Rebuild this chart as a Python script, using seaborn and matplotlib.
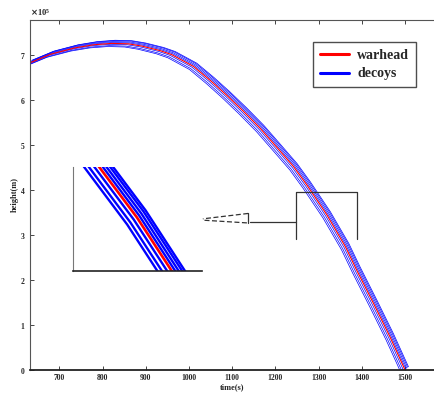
import numpy as np
import pandas as pd
import matplotlib
matplotlib.use("Agg")
import matplotlib.pyplot as plt
import seaborn as sns
from matplotlib.lines import Line2D
from matplotlib.ticker import ScalarFormatter

### ---------------------------------------------------------------- ###
### Data

# warhead trajectory: time (s) and height (x1e5 m)
time_s = [630, 680, 736, 780, 821, 860, 891, 933, 960, 1010, 1050, 1087,
          1125, 1165, 1205, 1242, 1273, 1319, 1362, 1388, 1427, 1465, 1500]
height_e5 = [6.82, 7.02, 7.16, 7.23, 7.26, 7.25, 7.20, 7.10, 7.01, 6.75, 6.43, 6.11,
             5.76, 5.37, 4.93, 4.52, 4.11, 3.45, 2.74, 2.22, 1.48, 0.74, 0.0]

# decoys sit around the warhead: shift in time (s) and in height (x1e5 m)
decoy_dt = [-9, -6, -3, 2, 4, 6, 8]
decoy_dh = [-0.07, -0.05, -0.02, 0.02, 0.04, 0.06, 0.07]

x_ticks = [700, 800, 900, 1000, 1100, 1200, 1300, 1400, 1500]
y_ticks = [0, 1, 2, 3, 4, 5, 6, 7]

# build data frames
warhead = pd.DataFrame({"time": time_s, "height": np.array(height_e5) * 1e5})
rows = []
for k in range(len(decoy_dt)):
    d0 = pd.DataFrame({"time": np.array(time_s) + decoy_dt[k],
                       "height": (np.array(height_e5) + decoy_dh[k]) * 1e5})
    d0["decoy"] = k
    rows.append(d0)
decoys = pd.concat(rows, ignore_index=True)

### ---------------------------------------------------------------- ###
### Plot

sns.set_style("white")
plt.rcParams["font.family"] = ["Liberation Serif", "DejaVu Serif"]
plt.rcParams["font.weight"] = "bold"

fig = plt.figure(figsize=(4.34, 3.96), dpi=100)
ax = fig.add_axes([30/434, 26/396, 404/434, 350/396])

sns.lineplot(data=decoys, x="time", y="height", units="decoy", estimator=None,
             color="#0000ff", lw=0.5, sort=False, ax=ax, legend=False)
sns.lineplot(data=warhead, x="time", y="height", color="#ff0000", lw=0.8,
             sort=False, ax=ax, legend=False)

ax.set_xlim(632, 1567)
ax.set_ylim(0, 7.78e5)
ax.set_xticks(x_ticks)
ax.set_yticks(np.array(y_ticks) * 1e5)
fmt = ScalarFormatter(useMathText=True)
fmt.set_powerlimits((5, 5))
ax.yaxis.set_major_formatter(fmt)
ax.yaxis.get_offset_text().set_fontsize(6)
ax.tick_params(direction="in", length=3, width=0.6, labelsize=5.5,
               top=True, bottom=True, left=True, right=False, pad=3)
for lab in ax.get_xticklabels() + ax.get_yticklabels():
    lab.set_fontweight("bold")
ax.set_xlabel("time(s)", fontsize=6, fontweight="bold", labelpad=1)
ax.set_ylabel("height(m)", fontsize=6, fontweight="bold", labelpad=1)
ax.spines["right"].set_visible(False)
for s in ["top", "left"]:
    ax.spines[s].set_color("#555555")
    ax.spines[s].set_linewidth(0.8)
ax.spines["bottom"].set_color("#222222")
ax.spines["bottom"].set_linewidth(1.3)

# bracket marking the zoomed region and the pointer to the inset
ink = "#333333"
ax.plot([1248, 1248, 1388, 1388], [2.92e5, 3.95e5, 3.95e5, 2.92e5], color=ink, lw=0.9)
ax.plot([1141, 1248], [3.30e5, 3.30e5], color=ink, lw=0.9)
ax.plot([1137, 1137], [3.50e5, 3.27e5], color=ink, lw=0.9)
ax.plot([1137, 1032], [3.48e5, 3.36e5], color=ink, lw=0.9, ls=(0, (4, 2)))
ax.plot([1134, 1033], [3.27e5, 3.33e5], color=ink, lw=0.9, ls=(0, (4, 2)))

# legend
handles = [Line2D([0], [0], color="#ff0000", lw=2.2),
           Line2D([0], [0], color="#0000ff", lw=2.2)]
leg = ax.legend(handles, ["warhead", "decoys"], loc="upper right",
                bbox_to_anchor=(416/434, 1 - 42/396), bbox_transform=fig.transFigure,
                prop={"family": "Liberation Serif", "weight": "bold", "size": 10},
                frameon=True, fancybox=False, handlelength=2.1, handletextpad=0.6,
                borderpad=0.5, labelspacing=0.4, borderaxespad=0)
leg.get_frame().set_edgecolor("#222222")
leg.get_frame().set_linewidth(1.0)

# inset with the magnified region
axi = fig.add_axes([73/434, (396-271)/396, 129/434, 104/396])
sns.lineplot(data=decoys, x="time", y="height", units="decoy", estimator=None,
             color="#0000ff", lw=1.7, sort=False, ax=axi, legend=False)
sns.lineplot(data=warhead, x="time", y="height", color="#ff0000", lw=1.9,
             sort=False, ax=axi, legend=False)
axi.set_xlim(1260, 1379)
axi.set_ylim(2.92e5, 3.95e5)
axi.set_xticks([])
axi.set_yticks([])
axi.set_xlabel("")
axi.set_ylabel("")
axi.spines["top"].set_visible(False)
axi.spines["right"].set_visible(False)
axi.spines["left"].set_color("#777777")
axi.spines["left"].set_linewidth(0.8)
axi.spines["bottom"].set_color("#222222")
axi.spines["bottom"].set_linewidth(1.2)
axi.patch.set_alpha(0)

fig.savefig("out.png", dpi=100)
